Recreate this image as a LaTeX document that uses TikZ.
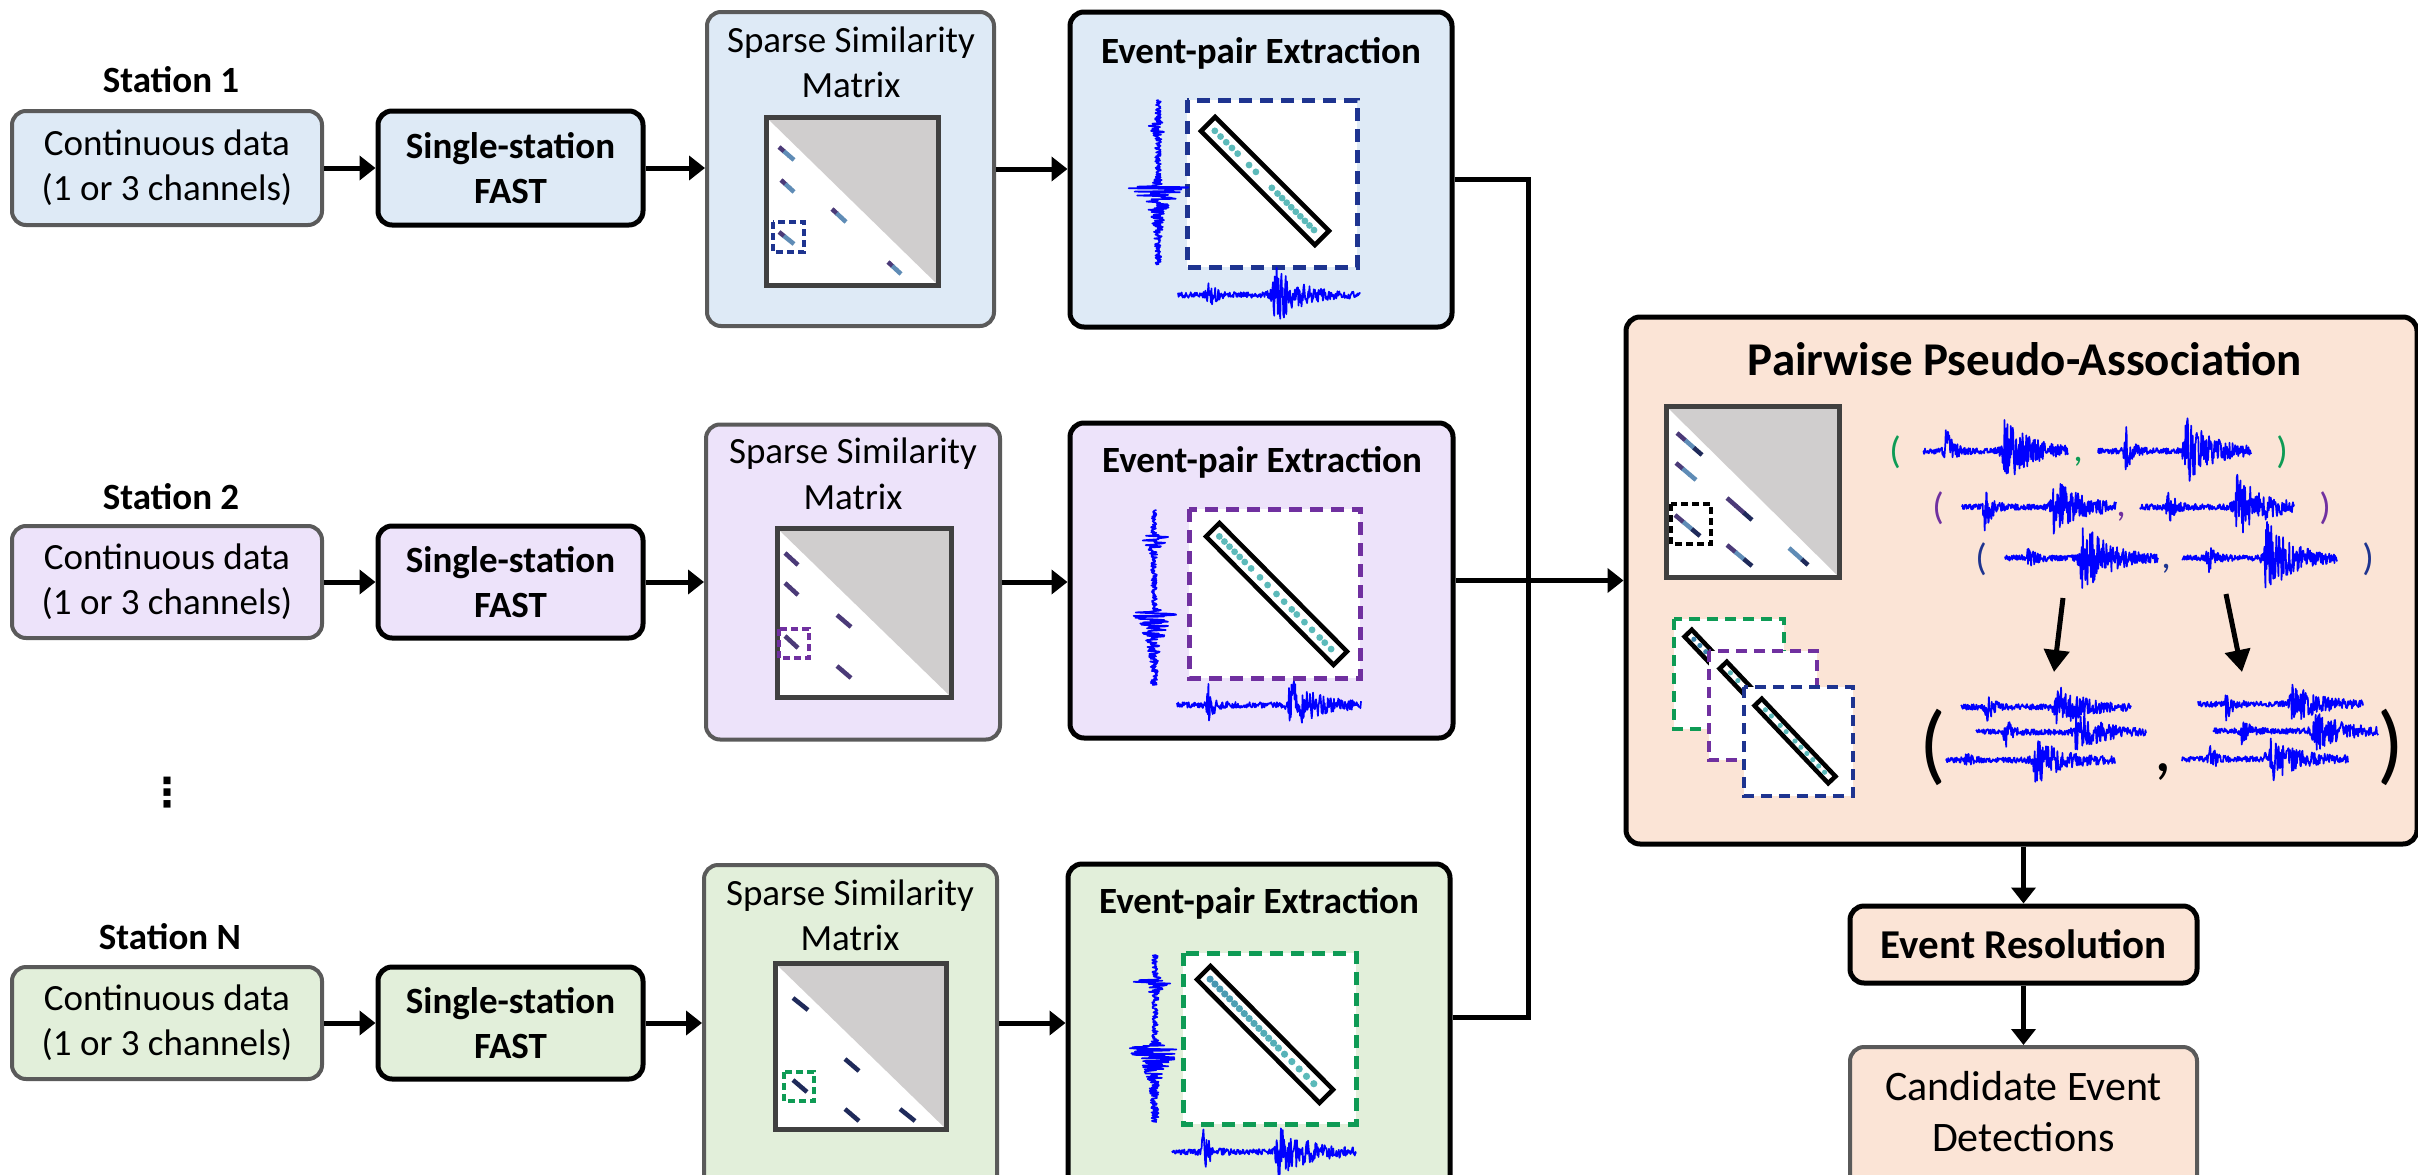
\documentclass[tikz,border=0pt]{standalone}
\usepackage{fontspec}
\setmainfont{Carlito}
\newfontfamily\symfont{DejaVu Sans}
\usetikzlibrary{arrows.meta,calc}

\definecolor{fillBlue}{HTML}{DEEAF6}
\definecolor{fillPurple}{HTML}{EDE3FA}
\definecolor{fillGreen}{HTML}{E2EFDA}
\definecolor{fillPeach}{HTML}{FBE4D6}
\definecolor{edgeGray}{HTML}{5A5A5A}
\definecolor{matEdge}{HTML}{404040}
\definecolor{matTri}{HTML}{D0CECE}
\definecolor{hiNavy}{HTML}{1E3490}
\definecolor{hiPurple}{HTML}{7030A0}
\definecolor{hiGreen}{HTML}{0E9B55}
\definecolor{traceBlue}{HTML}{0000FF}
\definecolor{simTeal}{HTML}{5CBABA}
\definecolor{simDeep}{HTML}{2F6DA6}
\definecolor{dPurA}{HTML}{4B3A78}
\definecolor{dSteel}{HTML}{5F8CB6}
\definecolor{dNavy}{HTML}{1F2A5A}

\tikzset{
  lightbox/.style={draw=edgeGray, line width=4pt, rounded corners=14pt, inner sep=0pt,
    align=center, font=\fontsize{37}{45}\selectfont},
  darkbox/.style={draw=black, line width=5pt, rounded corners=14pt, inner sep=0pt,
    align=center, font=\bfseries\fontsize{37}{45}\selectfont},
  txt/.style={inner sep=0pt, font=\fontsize{37}{45}\selectfont},
  txtb/.style={inner sep=0pt, font=\bfseries\fontsize{37}{45}\selectfont},
  arr/.style={line width=5pt, -{Triangle[length=16pt,width=24pt]}},
  bigarr/.style={line width=5pt, -{Triangle[length=22pt,width=25pt]}},
  conn/.style={line width=5pt},
  trace/.style={traceBlue, line width=1.7pt, line join=round},
  hibox/.style={line width=5pt, dash pattern=on 13pt off 8pt, fill=white},
  minibox/.style={line width=3.5pt, dash pattern=on 7pt off 4pt},
  cardbox/.style={line width=4.5pt, dash pattern=on 11pt off 7pt, fill=white},
  diagbar/.style={draw=black, fill=white, line width=4.5pt, inner sep=0pt},
  paren/.style={inner sep=0pt, font=\fontsize{38}{38}\selectfont},
  bigparen/.style={inner sep=0pt, font=\fontsize{88}{88}\selectfont},
}

% seismic trace along x: x0, y, length, P time, P amp, S time, S amp, S decay
\newcommand{\hwave}[8]{%
  \draw[trace] plot[samples=300, domain=0:#3, variable=\t]
   ({#1+\t}, {#2+(2.8+1.3*#5*exp(-min(max(\t-#4,0)/6+max(#4-\t,0)/1.2,9))+1.3*#7*exp(-min(max(\t-#6,0)/#8+max(#6-\t,0)/2,9)))*rand});
}
% seismic trace along y
\newcommand{\vwave}[8]{%
  \draw[trace] plot[samples=300, domain=0:#3, variable=\t]
   ({#1+(2.8+1.3*#5*exp(-min(max(\t-#4,0)/6+max(#4-\t,0)/1.2,9))+1.3*#7*exp(-min(max(\t-#6,0)/#8+max(#6-\t,0)/2,9)))*rand}, {#2+\t});
}
% similarity matrix frame: x0, y0, x1, y1
\newcommand{\simmat}[4]{%
  \fill[white] (#1,#2) rectangle (#3,#4);
  \fill[matTri] (#1,#2) -- (#3,#2) -- (#3,#4) -- cycle;
  \draw[matEdge, line width=5pt] (#1,#2) rectangle (#3,#4);
}
% short detection streak in three tones
\newcommand{\mdash}[7]{%
  \draw[line width=4.5pt,#5] (#1,#2) -- ($(#1,#2)!0.36!(#3,#4)$);
  \draw[line width=4.5pt,#6] ($(#1,#2)!0.33!(#3,#4)$) -- ($(#1,#2)!0.70!(#3,#4)$);
  \draw[line width=4.5pt,#7] ($(#1,#2)!0.67!(#3,#4)$) -- (#3,#4);
}

\begin{document}
\begin{tikzpicture}[x=1pt,y=-1pt]
\useasboundingbox (0,0) rectangle (2418,1175);
\clip (0,0) rectangle (2418,1175);
\pgfmathsetseed{7}

% ---------- station labels ----------
\node[txtb] (st1) at (171,80) {Station 1};
\node[txtb] (st2) at (171,497) {Station 2};
\node[txtb] (stN) at (170,937) {Station N};
\node[inner sep=0pt, font=\symfont\bfseries\fontsize{40}{40}\selectfont] (vd) at (167,793) {⋮};

% ---------- row 1 ----------
\node[lightbox, fill=fillBlue, minimum width=310pt, minimum height=114pt] (c1) at (167,168) {Continuous data\\(1 or 3 channels)};
\node[darkbox, fill=fillBlue, minimum width=265pt, minimum height=114pt] (f1) at (510.5,168) {Single-station\\FAST};
\node[lightbox, fill=fillBlue, minimum width=287pt, minimum height=314pt] (s1) at (850.5,169) {};
\node[darkbox, fill=fillBlue, minimum width=382pt, minimum height=315pt] (e1) at (1261,169.5) {};

% ---------- row 2 ----------
\node[lightbox, fill=fillPurple, minimum width=310pt, minimum height=112pt] (c2) at (167,582) {Continuous data\\(1 or 3 channels)};
\node[darkbox, fill=fillPurple, minimum width=265pt, minimum height=112pt] (f2) at (510.5,582) {Single-station\\FAST};
\node[lightbox, fill=fillPurple, minimum width=294pt, minimum height=315pt] (s2) at (853,582) {};
\node[darkbox, fill=fillPurple, minimum width=383pt, minimum height=315pt] (e2) at (1261.5,580.5) {};

% ---------- row 3 ----------
\node[lightbox, fill=fillGreen, minimum width=310pt, minimum height=112pt] (c3) at (167,1023) {Continuous data\\(1 or 3 channels)};
\node[darkbox, fill=fillGreen, minimum width=265pt, minimum height=112pt] (f3) at (510.5,1023) {Single-station\\FAST};
\node[lightbox, fill=fillGreen, minimum width=293pt, minimum height=335pt] (s3) at (850.5,1032.5) {};
\node[darkbox, fill=fillGreen, minimum width=382pt, minimum height=336pt] (e3) at (1259,1032) {};

% ---------- panel titles ----------
\node[txt, anchor=base] (s1a) at (851,52) {Sparse Similarity};
\node[txt, anchor=base] (s1b) at (851,97) {Matrix};
\node[txt, anchor=base] (s2a) at (853,463) {Sparse Similarity};
\node[txt, anchor=base] (s2b) at (853,509) {Matrix};
\node[txt, anchor=base] (s3a) at (850,905) {Sparse Similarity};
\node[txt, anchor=base] (s3b) at (850,950) {Matrix};
\node[txtb, anchor=base] (e1t) at (1261,63) {Event-pair Extraction};
\node[txtb, anchor=base] (e2t) at (1262,472) {Event-pair Extraction};
\node[txtb, anchor=base] (e3t) at (1259,913) {Event-pair Extraction};

% ---------- similarity matrices in the station rows ----------
\simmat{766}{117}{938}{285}
\mdash{779}{147}{794}{160}{dPurA}{dSteel}{dSteel}
\mdash{781}{180}{794}{192}{dPurA}{dSteel}{dSteel}
\mdash{832}{209}{846}{222}{dPurA}{dSteel}{dSteel}
\mdash{779}{232}{794}{244}{dPurA}{dSteel}{dSteel}
\mdash{888}{262}{901}{274}{dPurA}{dSteel}{dSteel}
\draw[minibox, hiNavy] (773,222) rectangle (804,252);

\simmat{777}{528}{951}{697}
\mdash{785}{553}{798}{565}{dPurA}{dPurA}{dPurA}
\mdash{785}{583}{798}{595}{dPurA}{dPurA}{dPurA}
\mdash{837}{615}{851}{627}{dPurA}{dPurA}{dPurA}
\mdash{785}{636}{798}{648}{dPurA}{dPurA}{dPurA}
\mdash{837}{666}{851}{678}{dPurA}{dPurA}{dPurA}
\draw[minibox, hiPurple] (779,629) rectangle (809,658);

\simmat{775}{963}{946}{1129}
\mdash{793}{998}{808}{1010}{dNavy}{dNavy}{dNavy}
\mdash{845}{1059}{859}{1071}{dNavy}{dNavy}{dNavy}
\mdash{793}{1080}{807}{1092}{dNavy}{dNavy}{dNavy}
\mdash{845}{1109}{859}{1121}{dNavy}{dNavy}{dNavy}
\mdash{900}{1109}{915}{1121}{dNavy}{dNavy}{dNavy}
\draw[minibox, hiGreen] (784,1072) rectangle (814,1101);

% ---------- event-pair zooms ----------
\draw[hibox, draw=hiNavy] (1187,100) rectangle (1357,267);
\coordinate (b1a) at (1208,124);
\coordinate (b1b) at (1322,238);
\node[diagbar, rotate=-45, minimum width=161pt, minimum height=20pt] (bar1) at ($(b1a)!0.5!(b1b)$) {};
\foreach \p in {0.06,0.11,0.16,0.21,0.26,0.36,0.42,0.56,0.61,0.65,0.69,0.73,0.77,0.81,0.85,0.89,0.93}
  \fill[simTeal] ($(b1a)!\p!(b1b)$) circle (3.4pt);
\vwave{1158}{100}{165}{25}{9}{87}{24}{16}
\hwave{1178}{295}{182}{30}{11}{96}{24}{22}

\draw[hibox, draw=hiPurple] (1189,509) rectangle (1360,678);
\coordinate (b2a) at (1213,530);
\coordinate (b2b) at (1340,658);
\node[diagbar, rotate=-45.2, minimum width=181pt, minimum height=19pt] (bar2) at ($(b2a)!0.5!(b2b)$) {};
\foreach \p in {0.05,0.09,0.13,0.17,0.21,0.25,0.30,0.37,0.43,0.50,0.56,0.62,0.66,0.72,0.78,0.84,0.88,0.93}
  \fill[simTeal] ($(b2a)!\p!(b2b)$) circle (3.4pt);
\vwave{1154}{510}{175}{27}{18}{103}{18}{20}
\hwave{1177}{705}{184}{31}{15}{113}{20}{25}

\draw[hibox, draw=hiGreen] (1183,953) rectangle (1356,1124);
\coordinate (b3a) at (1204,973);
\coordinate (b3b) at (1326,1096);
\node[diagbar, rotate=-45.2, minimum width=174pt, minimum height=19pt] (bar3) at ($(b3a)!0.5!(b3b)$) {};
\foreach \p/\c in {0.05/55,0.09/55,0.13/60,0.17/60,0.21/65,0.25/65,0.29/70,0.33/70,0.37/75,0.41/75,0.45/80,0.49/80,0.53/85,0.57/85,0.61/90,0.66/90,0.72/95,0.78/95,0.84/100,0.90/100}
  \fill[simTeal!\c!simDeep] ($(b3a)!\p!(b3b)$) circle (3.6pt);
\vwave{1155}{955}{167}{25}{20}{93}{24}{18}
\hwave{1172}{1152}{184}{31}{18}{106}{18}{30}

% ---------- pairwise pseudo-association ----------
\node[darkbox, fill=fillPeach, minimum width=791pt, minimum height=527pt] (pw) at (2021.5,580.5) {};
\node[inner sep=0pt, font=\bfseries\fontsize{47}{56}\selectfont, anchor=base] (pwt) at (2025,375) {Pairwise Pseudo-Association};

\simmat{1666}{406}{1839}{577}
\mdash{1677}{433}{1702}{455}{dPurA}{dSteel}{dNavy}
\mdash{1676}{463}{1696}{480}{dPurA}{dSteel}{dSteel}
\mdash{1727}{498}{1752}{520}{dPurA}{dPurA}{dNavy}
\mdash{1675}{515}{1700}{536}{dPurA}{dSteel}{dNavy}
\mdash{1727}{545}{1752}{566}{dPurA}{dSteel}{dNavy}
\mdash{1789}{548}{1808}{565}{dSteel}{dSteel}{dNavy}
\draw[minibox, black] (1671,504) rectangle (1711,544);

% stacked zoom cards
\draw[cardbox, draw=hiGreen] (1674,619) rectangle (1784,729);
\node[diagbar, rotate=-46.5, minimum width=107pt, minimum height=10pt] (cb1) at (1725,672) {};
\foreach \p in {0.08,0.16,0.24,0.32,0.40} \fill[simDeep!70!simTeal] ($(1688,633)!\p!(1762,711)$) circle (2.6pt);
\draw[cardbox, draw=hiPurple] (1709,651) rectangle (1817,760);
\node[diagbar, rotate=-46.5, minimum width=107pt, minimum height=10pt] (cb2) at (1760,704) {};
\foreach \p in {0.10,0.20,0.30,0.40,0.50} \fill[simTeal] ($(1723,665)!\p!(1797,743)$) circle (2.6pt);
\draw[cardbox, draw=hiNavy] (1744,687) rectangle (1853,796);
\node[diagbar, rotate=-46.5, minimum width=107pt, minimum height=10pt] (cb3) at (1795,741) {};
\foreach \p in {0.10,0.18,0.30,0.38,0.50,0.58,0.66,0.74,0.82,0.90} \fill[simTeal] ($(1758,702)!\p!(1832,780)$) circle (2.6pt);

% event-pair tuples
\node[paren, text=hiGreen] (pa1) at (1895,452) {(};
\node[paren, text=hiGreen] (pa2) at (2282,452) {)};
\node[paren, text=hiGreen] (pac) at (2078,462) {,};
\hwave{1923}{451}{145}{23}{22}{81}{25}{25}
\hwave{2098}{451}{153}{27}{20}{88}{25}{25}

\node[paren, text=hiPurple] (pb1) at (1938,508) {(};
\node[paren, text=hiPurple] (pb2) at (2325,508) {)};
\node[paren, text=hiPurple] (pbc) at (2121,517) {,};
\hwave{1962}{507}{154}{23}{22}{92}{22}{25}
\hwave{2140}{507}{154}{28}{15}{96}{25}{25}

\node[paren, text=hiNavy] (pc1) at (1981,559) {(};
\node[paren, text=hiNavy] (pc2) at (2368,559) {)};
\node[paren, text=hiNavy] (pcc) at (2166,569) {,};
\hwave{2005}{558}{153}{22}{10}{77}{27}{25}
\hwave{2182}{558}{155}{26}{12}{84}{28}{25}

% arrows into the grouped pair
\coordinate (g1a) at (2063,598);
\coordinate (g1b) at (2054,672);
\coordinate (g2a) at (2226,594);
\coordinate (g2b) at (2242,672);
\draw[bigarr] (g1a) -- (g1b);
\draw[bigarr] (g2a) -- (g2b);

% grouped pair
\node[bigparen] (qp1) at (1933,747) {(};
\node[bigparen] (qp2) at (2391,747) {)};
\node[inner sep=0pt, font=\fontsize{70}{70}\selectfont] (qpc) at (2163,772) {,};
\hwave{1961}{707}{170}{25}{13}{95}{16}{25}
\hwave{1976}{732}{170}{29}{12}{100}{15}{25}
\hwave{1946}{760}{169}{20}{4}{89}{18}{25}
\hwave{2198}{704}{165}{28}{12}{94}{14}{25}
\hwave{2213}{731}{165}{29}{11}{101}{16}{25}
\hwave{2182}{759}{166}{28}{10}{87}{18}{25}

% ---------- resolution and output ----------
\node[darkbox, fill=fillPeach, minimum width=347pt, minimum height=77pt, font=\bfseries\fontsize{41}{49}\selectfont] (er) at (2023.5,944.5) {Event Resolution};
\node[lightbox, fill=fillPeach, minimum width=347pt, minimum height=153pt] (cd) at (2023.5,1123.5) {};
\node[inner sep=0pt, align=center, font=\fontsize{42}{51}\selectfont] (cdt) at (2023.5,1112) {Candidate Event\\Detections};

% ---------- connectors ----------
\draw[arr] (c1) -- (f1);
\draw[arr] (f1.east) -- (f1.east -| s1.west);
\draw[arr] (s1.east) -- (s1.east -| e1.west);
\draw[arr] (c2) -- (f2);
\draw[arr] (f2.east) -- (f2.east -| s2.west);
\draw[arr] (s2.east) -- (s2.east -| e2.west);
\draw[arr] (c3) -- (f3);
\draw[arr] (f3.east) -- (f3.east -| s3.west);
\draw[arr] (f3.east -| s3.east) -- (f3.east -| e3.west);

\coordinate (jn) at (1528,580.5);
\draw[conn] ([yshift=-10pt]e1.east) -| (jn);
\draw[conn] ([yshift=15pt]e3.east) -| (jn);
\draw[arr] (e2.east) -- (pw.west);
\draw[arr] (pw.south -| er.north) -- (er.north);
\draw[arr] (er.south) -- (cd.north);
\end{tikzpicture}
\end{document}
